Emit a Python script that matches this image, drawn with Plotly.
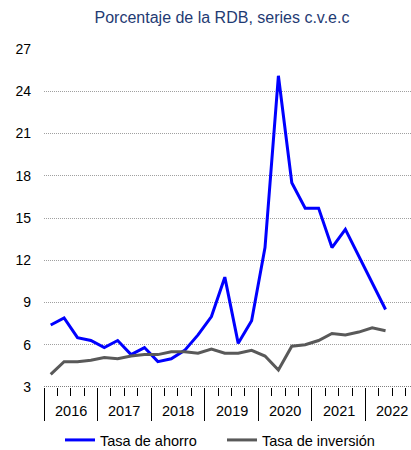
import plotly.graph_objects as go

years = ["2016", "2017", "2018", "2019", "2020", "2021", "2022"]
quarters = [f"{y}T{q}" for y in years for q in range(1, 5)][:26]

ahorro = [7.4, 7.9, 6.5, 6.3, 5.8, 6.3, 5.3, 5.8, 4.8, 5.0, 5.6, 6.7,
          8.0, 10.8, 6.1, 7.7, 12.9, 25.1, 17.5, 15.7, 15.7, 12.9, 14.2, 12.3,
          10.4, 8.5]
inversion = [3.9, 4.8, 4.8, 4.9, 5.1, 5.0, 5.2, 5.3, 5.3, 5.5, 5.5, 5.4,
             5.7, 5.4, 5.4, 5.6, 5.2, 4.2, 5.9, 6.0, 6.3, 6.8, 6.7, 6.9,
             7.2, 7.0]
y_ticks = [3, 6, 9, 12, 15, 18, 21, 24, 27]

xpos = [i + 0.5 for i in range(len(quarters))]
FONT = "Liberation Sans, Arial, sans-serif"

fig = go.Figure()
fig.add_trace(go.Scatter(x=xpos, y=ahorro, mode="lines", name="Tasa de ahorro",
                         line=dict(color="#0000FF", width=3), customdata=quarters))
fig.add_trace(go.Scatter(x=xpos, y=inversion, mode="lines", name="Tasa de inversión",
                         line=dict(color="#595959", width=3), customdata=quarters))

# year labels
for i, y in enumerate(years):
    fig.add_annotation(x=i * 4 + 2, y=0, xref="x", yref="paper", text=y,
                       showarrow=False, yanchor="middle", yshift=-24,
                       font=dict(size=14.5, color="#000000", family=FONT))

# dotted axis line at bottom
fig.add_shape(type="line", xref="paper", yref="y", x0=0, x1=1, y0=3, y1=3,
              line=dict(color="#000000", width=1, dash="1px,1px"), layer="above")

fig.update_layout(
    width=411, height=450,
    margin=dict(l=44, r=0, t=49, b=63, autoexpand=False),
    paper_bgcolor="white", plot_bgcolor="white",
    font=dict(family=FONT, color="#000000", size=14),
    title=dict(text="Porcentaje de la RDB, series c.v.e.c", x=222 / 411, xanchor="center",
               y=1 - 17 / 450, yanchor="middle",
               font=dict(size=16, color="#1F3B73", family=FONT)),
    showlegend=True,
    legend=dict(orientation="h", xref="container", yref="container",
                x=60 / 411, y=10 / 450, xanchor="left", yanchor="middle",
                font=dict(size=14.5, family=FONT), itemwidth=30,
                entrywidth=117, entrywidthmode="pixels"),
    xaxis=dict(range=[0, 27.4], tickmode="array", tickvals=[0, 4, 8, 12, 16, 20, 24, 28],
               ticktext=[""] * 8, ticks="outside", ticklen=33, tickcolor="#000000",
               tickwidth=1, showgrid=False, zeroline=False, showline=False,
               minor=dict(dtick=1, tick0=0, ticks="outside", ticklen=8,
                          tickcolor="#000000", tickwidth=1, showgrid=False)),
    yaxis=dict(range=[3, 27], tickmode="array", tickvals=y_ticks,
               showgrid=True, gridcolor="#A0A0A0", griddash="1px,1px", gridwidth=1,
               zeroline=False, showline=False, ticks="", ticklabelstandoff=12,
               tickfont=dict(size=14, color="#000000", family=FONT)),
)

fig.write_html("out.html", config={"displayModeBar": False},
               post_script="document.body.style.margin='0';document.body.style.overflow='hidden';")
